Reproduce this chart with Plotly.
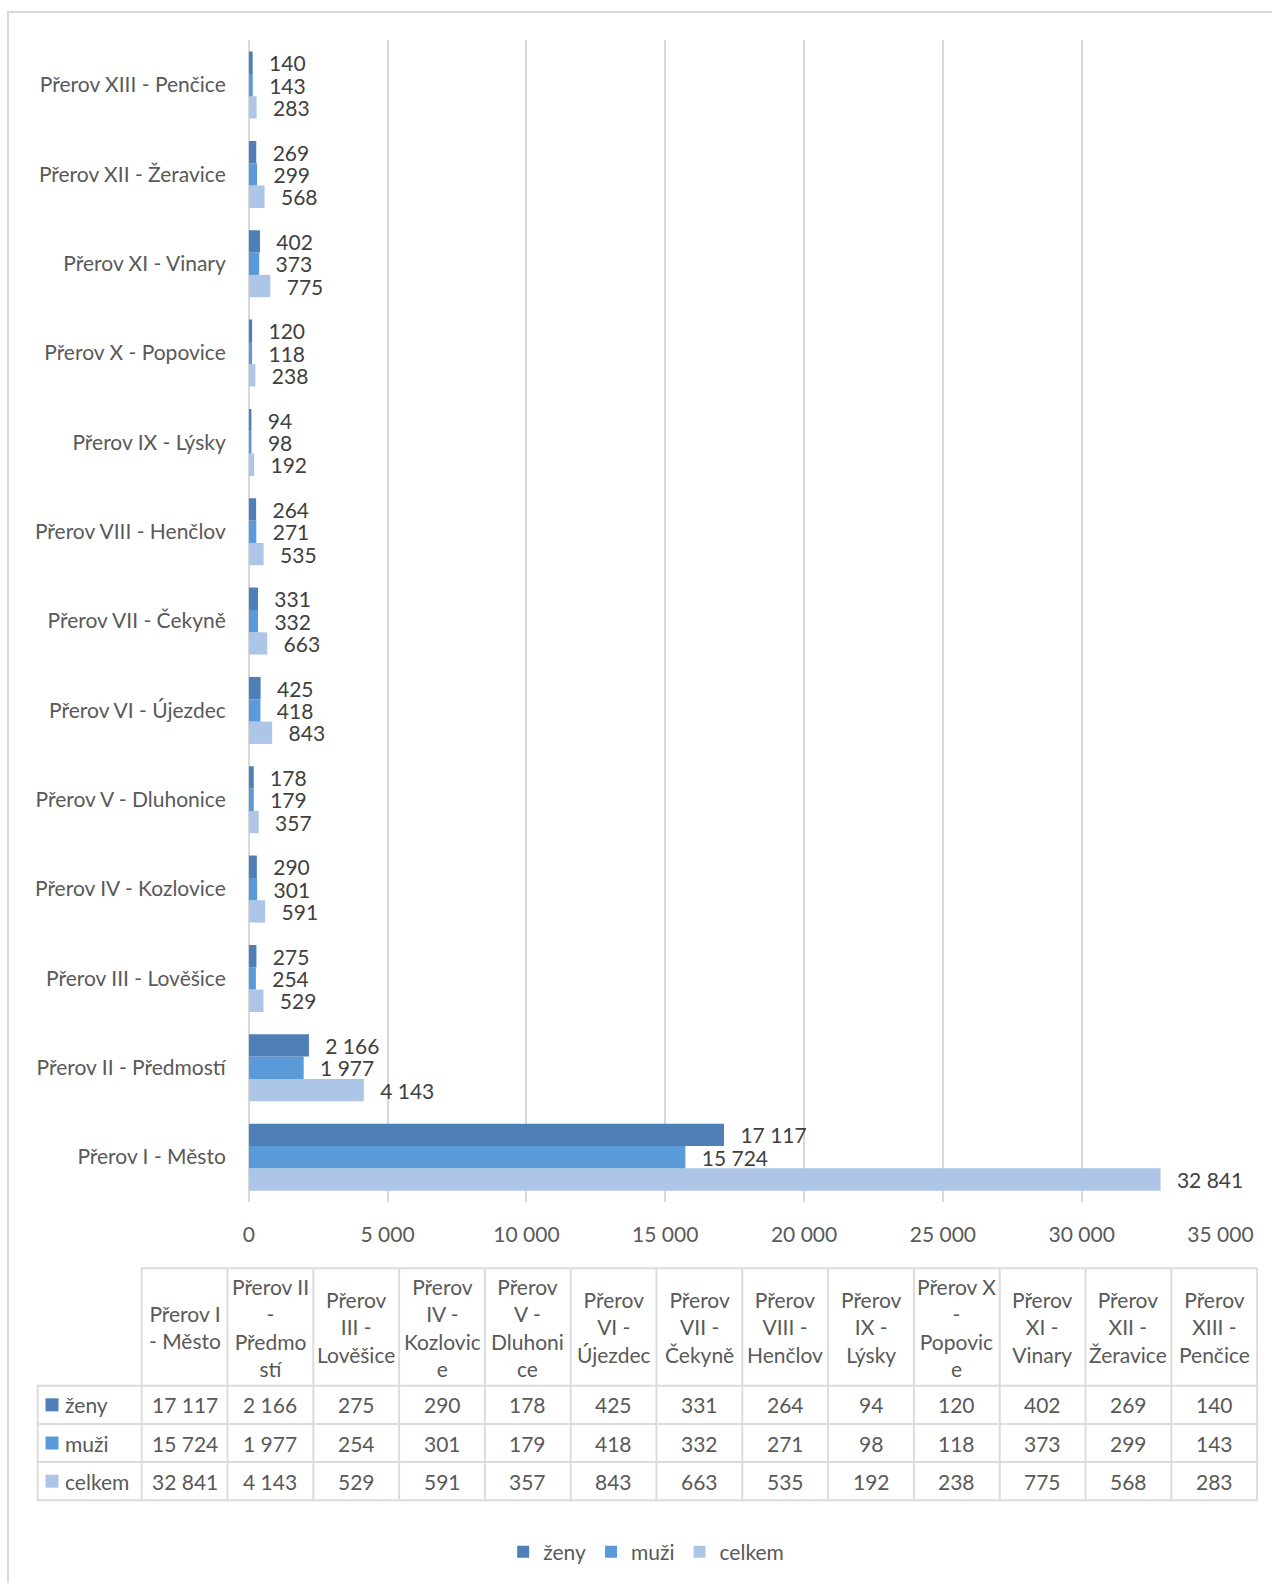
import plotly.graph_objects as go

W, H = 1272, 1583

# City districts (bottom to top on the bar chart, left to right in the table)
categories = [
    "Přerov I - Město", "Přerov II - Předmostí", "Přerov III - Lověšice",
    "Přerov IV - Kozlovice", "Přerov V - Dluhonice", "Přerov VI - Újezdec",
    "Přerov VII - Čekyně", "Přerov VIII - Henčlov", "Přerov IX - Lýsky",
    "Přerov X - Popovice", "Přerov XI - Vinary", "Přerov XII - Žeravice",
    "Přerov XIII - Penčice",
]
# Wrapped column headings for the data table
table_headers = [
    "Přerov I<br>- Město", "Přerov II<br>-<br>Předmo<br>stí", "Přerov<br>III -<br>Lověšice",
    "Přerov<br>IV -<br>Kozlovic<br>e", "Přerov<br>V -<br>Dluhoni<br>ce", "Přerov<br>VI -<br>Újezdec",
    "Přerov<br>VII -<br>Čekyně", "Přerov<br>VIII -<br>Henčlov", "Přerov<br>IX -<br>Lýsky",
    "Přerov X<br>-<br>Popovic<br>e", "Přerov<br>XI -<br>Vinary", "Přerov<br>XII -<br>Žeravice",
    "Přerov<br>XIII -<br>Penčice",
]

zeny = [17117, 2166, 275, 290, 178, 425, 331, 264, 94, 120, 402, 269, 140]
muzi = [15724, 1977, 254, 301, 179, 418, 332, 271, 98, 118, 373, 299, 143]
celkem = [32841, 4143, 529, 591, 357, 843, 663, 535, 192, 238, 775, 568, 283]

series_names = ["ženy", "muži", "celkem"]
series_values = [zeny, muzi, celkem]
series_colors = ["#4f7fb7", "#5a9ad8", "#adc6e7"]

FONT = "Lato"
TXT = "#595959"
LBL = "#404040"
GRID = "#d9d9d9"
FS = 21


def fmt(v):
    return f"{v:,}".replace(",", "\u00a0")


def px_x(x):
    return x / W


def px_y(y):
    return 1 - y / H


fig = go.Figure()

# celkem first so that it sits at the bottom of each group, ženy on top
for name, vals, col in reversed(list(zip(series_names, series_values, series_colors))):
    fig.add_trace(go.Bar(
        y=categories, x=vals, name=name, orientation="h",
        marker=dict(color=col, line=dict(width=0)),
        text=["\u00a0\u00a0\u2009" + fmt(v) for v in vals],
        textposition="outside", cliponaxis=False, constraintext="none",
        textfont=dict(family=FONT, size=FS, color=LBL),
        hoverinfo="skip",
    ))

shapes = []
annotations = []


def hline(x0, x1, y, color, width=2):
    shapes.append(dict(type="line", xref="paper", yref="paper", x0=px_x(x0), x1=px_x(x1),
                       y0=px_y(y), y1=px_y(y), line=dict(color=color, width=width)))


def vline(x, y0, y1, color, width=2):
    shapes.append(dict(type="line", xref="paper", yref="paper", x0=px_x(x), x1=px_x(x),
                       y0=px_y(y0), y1=px_y(y1), line=dict(color=color, width=width)))


# chart frame (top and left edges)
hline(7, W, 12, GRID)
vline(8, 11, H, GRID)

# data table under the chart
t_left, t_col0, col_w = 37.7, 141.7, 85.8
t_top, t_head_bot, row_h = 1268.3, 1385.7, 38.2
n = len(categories)
t_right = t_col0 + n * col_w
t_bot = t_head_bot + 3 * row_h
LC = "#dcdcdc"

hline(t_col0 - 1, t_right + 1, t_top, LC)
for r in range(4):
    hline(t_left - 1, t_right + 1, t_head_bot + r * row_h, LC)
vline(t_left, t_head_bot, t_bot, LC)
for c in range(n + 1):
    vline(t_col0 + c * col_w, t_top, t_bot, LC)

for c, head in enumerate(table_headers):
    cx = t_col0 + (c + 0.5) * col_w
    annotations.append(dict(xref="paper", yref="paper", x=px_x(cx), y=px_y((t_top + t_head_bot) / 2),
                            text=head, showarrow=False, xanchor="center", yanchor="middle",
                            align="center", font=dict(family=FONT, size=FS, color=TXT)))

for r, (name, vals, col) in enumerate(zip(series_names, series_values, series_colors)):
    cy = t_head_bot + (r + 0.5) * row_h
    shapes.append(dict(type="rect", xref="paper", yref="paper",
                       x0=px_x(45.5), x1=px_x(58.5), y0=px_y(cy + 6.5), y1=px_y(cy - 6.5),
                       fillcolor=col, line=dict(width=0)))
    annotations.append(dict(xref="paper", yref="paper", x=px_x(63), y=px_y(cy),
                            text=name, showarrow=False, xanchor="left", yanchor="middle",
                            font=dict(family=FONT, size=FS, color=TXT)))
    for c, v in enumerate(vals):
        cx = t_col0 + (c + 0.5) * col_w
        annotations.append(dict(xref="paper", yref="paper", x=px_x(cx), y=px_y(cy),
                                text=fmt(v), showarrow=False, xanchor="center", yanchor="middle",
                                font=dict(family=FONT, size=FS, color=TXT)))

fig.update_layout(
    width=W, height=H, autosize=False,
    margin=dict(l=0, r=0, t=0, b=0, autoexpand=False),
    paper_bgcolor="white", plot_bgcolor="white",
    barmode="group", bargap=0.25, bargroupgap=0,
    separators=", ",
    font=dict(family=FONT, size=FS, color=TXT),
    xaxis=dict(
        domain=[px_x(248.8), px_x(1220.5)], range=[0, 35000], dtick=5000,
        tickformat=",", automargin=False,
        showgrid=True, gridcolor=GRID, gridwidth=1.5,
        zeroline=True, zerolinecolor=GRID, zerolinewidth=1.5,
        showline=False, ticks="", ticklabelstandoff=18,
        tickfont=dict(family=FONT, size=FS, color=TXT), fixedrange=True,
    ),
    yaxis=dict(
        domain=[px_y(1201.8), px_y(40.4)], type="category",
        categoryorder="array", categoryarray=categories, automargin=False,
        showgrid=False, zeroline=False, showline=False, ticks="",
        ticklabelstandoff=22,
        tickfont=dict(family=FONT, size=FS, color=TXT), fixedrange=True,
    ),
    legend=dict(orientation="h", traceorder="reversed",
                x=0.508, xanchor="center", y=px_y(1552), yanchor="middle",
                font=dict(family=FONT, size=FS, color=TXT), itemclick=False),
    shapes=shapes,
    annotations=annotations,
)

fig.write_html("out.html", config={"displayModeBar": False})
